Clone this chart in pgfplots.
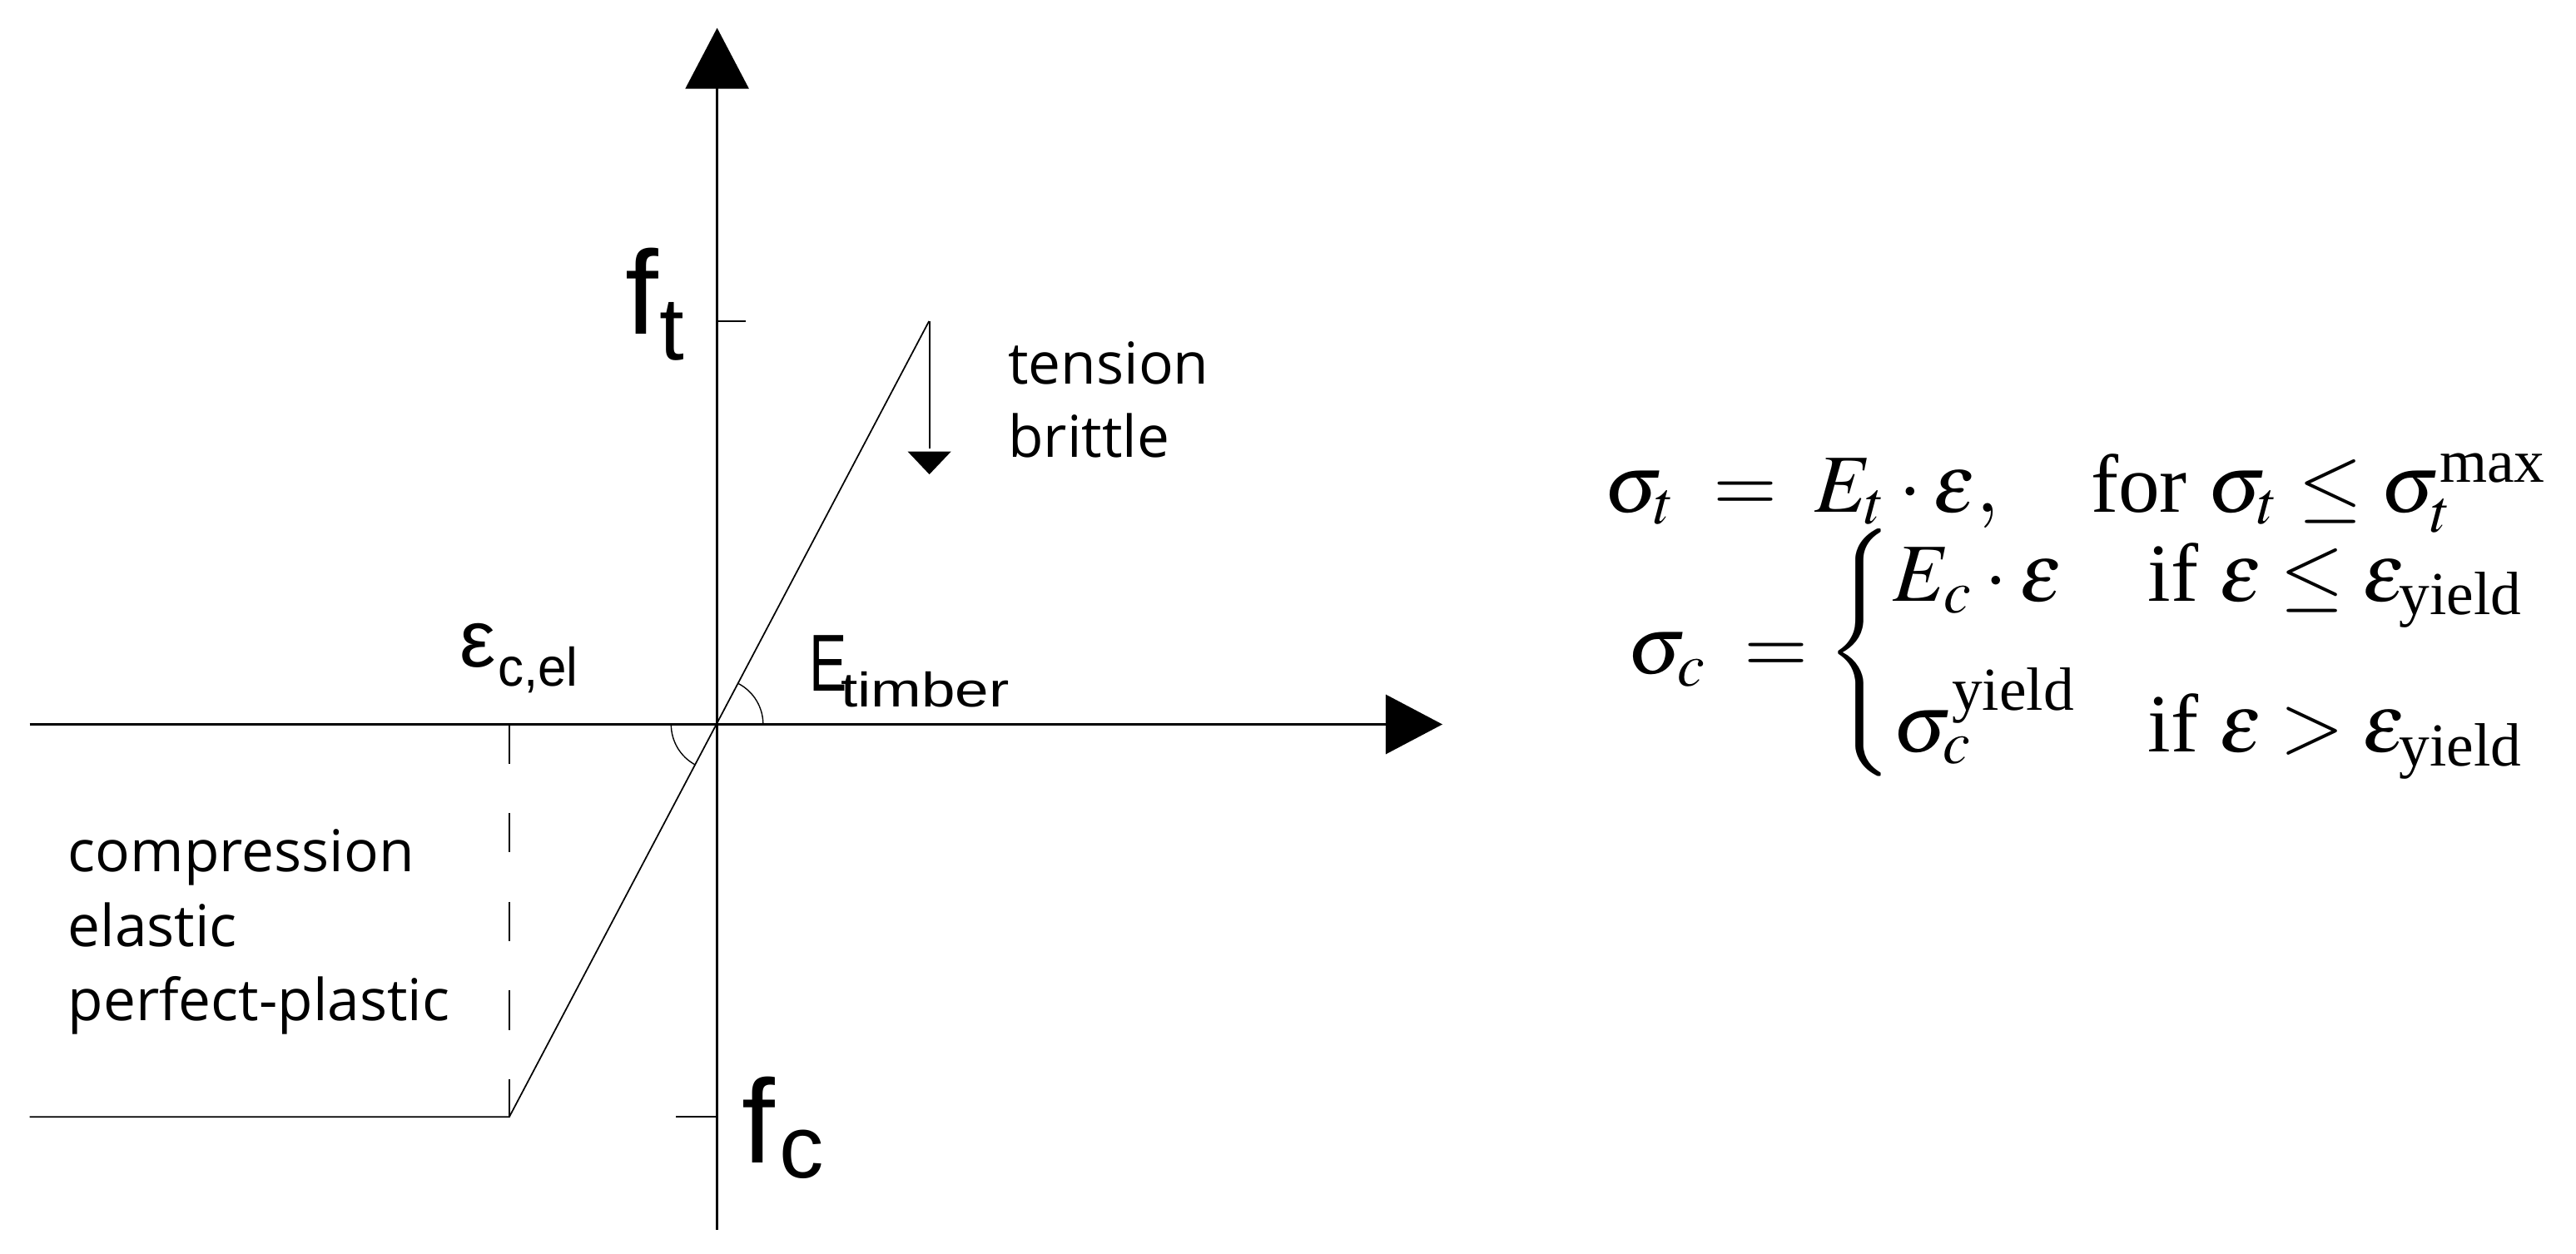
\documentclass[border=0pt]{standalone}
\usepackage{amsmath}
\usepackage{mathptmx}
\usepackage{fontspec}
\setmainfont{Liberation Serif}
\newfontfamily\cad{Liberation Sans}
\newfontfamily\hand{Open Sans}
\usepackage{pgfplots}
\pgfplotsset{compat=1.18}
\begin{document}
\begin{tikzpicture}
\begin{axis}[width=15.68cm,height=7.63cm,scale only axis,
  xmin=0,xmax=1568,ymin=0,ymax=763,hide axis,clip=false]
\path (axis cs:0,0) rectangle (axis cs:1568,763);
% axes
\draw[line width=0.45pt] (axis cs:18,322) -- (axis cs:845,322);
\fill (axis cs:878,322) -- (axis cs:843.5,340.2) -- (axis cs:843.5,303.8) -- cycle;
\draw[line width=0.45pt] (axis cs:436.5,14) -- (axis cs:436.5,712);
\fill (axis cs:436.5,746) -- (axis cs:417.1,709) -- (axis cs:455.9,709) -- cycle;
% ticks
\draw[line width=0.25pt] (axis cs:436.5,567.5) -- (axis cs:454,567.5);
\draw[line width=0.25pt] (axis cs:411.5,83) -- (axis cs:436.5,83);
% stress-strain curve
\addplot[line width=0.25pt, mark=none] coordinates {(18,83) (310,83) (565.5,567.5)};
% dashed
\draw[line width=0.2pt, dash pattern=on 0.24cm off 0.3cm] (axis cs:310,322) -- (axis cs:310,83);
% down arrow
\draw[line width=0.3pt] (axis cs:565.7,567.5) -- (axis cs:565.7,490);
\fill (axis cs:565.7,474.2) -- (axis cs:552.5,488.1) -- (axis cs:578.9,488.1) -- cycle;
% angle arcs
\draw[line width=0.2pt] ([shift={(0.28cm,0)}]axis cs:436.5,322) arc[start angle=0,end angle=62.2,radius=0.28cm];
\draw[line width=0.2pt] ([shift={(-0.28cm,0)}]axis cs:436.5,322) arc[start angle=180,end angle=242.2,radius=0.28cm];
% labels
\node[anchor=base west,inner sep=0] at (axis cs:379.8,559.4) {\cad\fontsize{20.6}{24}\selectfont f};
\node[anchor=base west,inner sep=0] at (axis cs:401,544) {\cad\fontsize{15.4}{18}\selectfont t};
\node[anchor=base west,inner sep=0] at (axis cs:451,55) {\cad\fontsize{20.6}{24}\selectfont f};
\node[anchor=base west,inner sep=0] at (axis cs:473.7,46) {\cad\fontsize{15.4}{18}\selectfont c};
\node[anchor=base west,inner sep=0] at (axis cs:492,342.5) {\scalebox{0.7}[1]{\cad\fontsize{14}{17}\selectfont E}};
\node[anchor=base west,inner sep=0] at (axis cs:511,332.4) {\scalebox{1.25}[1]{\cad\fontsize{8.4}{10}\selectfont timber}};
\node[anchor=base west,inner sep=0] at (axis cs:279,357) {\cad\fontsize{14}{17}\selectfont ε};
\node[anchor=base west,inner sep=0] at (axis cs:302.3,345.4) {\scalebox{0.95}[1]{\cad\fontsize{9.4}{11}\selectfont c,el}};
\node[anchor=base west,inner sep=0] at (axis cs:613,529.1) {\hand\fontsize{10}{12}\selectfont tension};
\node[anchor=base west,inner sep=0] at (axis cs:613,484.4) {\hand\fontsize{10}{12}\selectfont brittle};
\node[anchor=base west,inner sep=0] at (axis cs:40.7,232.4) {\hand\fontsize{10}{12}\selectfont compression};
\node[anchor=base west,inner sep=0] at (axis cs:40.7,186.5) {\hand\fontsize{10}{12}\selectfont elastic};
\node[anchor=base west,inner sep=0] at (axis cs:40.7,141.6) {\hand\fontsize{10}{12}\selectfont perfect-plastic};
% equations
\node[anchor=base west,inner sep=0] at (axis cs:976,451.4) {\fontsize{14.3}{17}\selectfont $\sigma_t \mathrel{\;=\;} E_t\cdot\varepsilon,\quad \text{for } \sigma_t \le \sigma_t^{\text{max}}$};
\node[anchor=base west,inner sep=0] at (axis cs:990,353) {\fontsize{14.3}{17}\selectfont $\sigma_c \mathrel{\;=} \begin{cases} E_c\cdot\varepsilon & \hspace{-2pt}\text{if } \varepsilon \le \varepsilon_{\text{yield}}\\[5.5pt] \sigma_c^{\text{yield}} & \hspace{-2pt}\text{if } \varepsilon > \varepsilon_{\text{yield}}\end{cases}$};
\end{axis}
\end{tikzpicture}
\end{document}
